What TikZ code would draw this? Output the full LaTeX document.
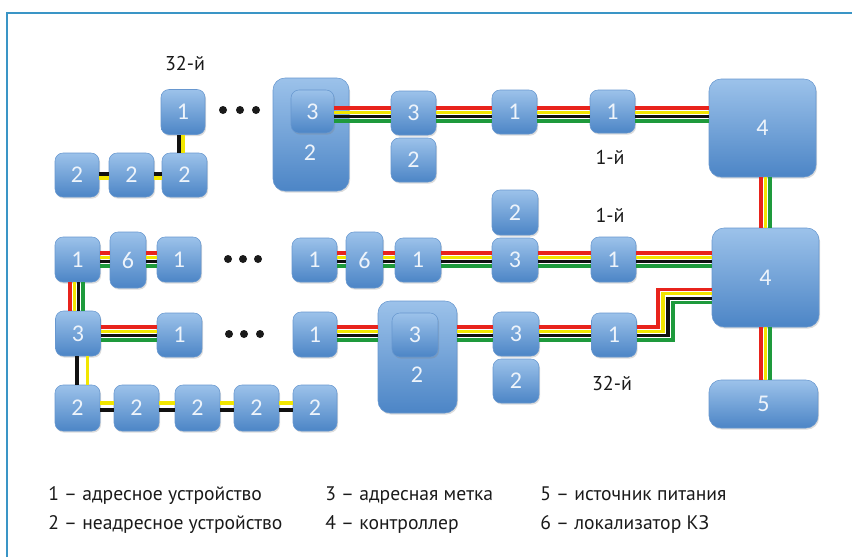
\documentclass[tikz,border=0pt]{standalone}
\usepackage{fontspec}
\setmainfont{PT Sans}
\newfontfamily\numfont{Carlito}
\usetikzlibrary{calc,shadows}
\definecolor{frameblue}{HTML}{3A95C6}
\definecolor{boxtop}{HTML}{9CC2EA}
\definecolor{boxbot}{HTML}{4C85C6}
\definecolor{wred}{HTML}{E8231C}
\definecolor{wyel}{HTML}{F2E600}
\definecolor{wblk}{HTML}{111111}
\definecolor{wgrn}{HTML}{1E9A3C}
\definecolor{numcol}{HTML}{EEF4FB}
\definecolor{txt}{HTML}{1A1A1A}
\tikzset{
  devbox/.style 2 args={rounded corners=6pt, top color=boxtop, bottom color=boxbot,
    draw=boxbot!85!white, line width=0.4pt, minimum width=#1*0.75pt, minimum height=#2*0.75pt,
    inner sep=0pt, text=numcol, font=\numfont\fontsize{18}{18}\selectfont,
    drop shadow={shadow xshift=0.8pt, shadow yshift=-1.2pt, opacity=0.28}},
  bigbox/.style 2 args={devbox={#1}{#2}, rounded corners=9pt},
  numtext/.style={text=numcol, font=\numfont\fontsize{18}{18}\selectfont, inner sep=0pt},
  lbl/.style={text=txt, font=\fontsize{15}{17}\selectfont, inner sep=0pt},
  legend/.style={text=txt, font=\fontsize{14.7}{17}\selectfont, inner sep=0pt, anchor=base west},
  wire/.style={line width=2.5pt},
  dotmark/.style={circle, fill=txt, minimum size=6pt, inner sep=0pt},
}
\newcommand\wiresH[3]{\foreach \wc/\wo in {wred/-6.5,wyel/-2.2,wblk/2.2,wgrn/6.5}{%
  \draw[wire,draw=\wc] ($(#1.east |- #3)+(0,\wo)$) -- ($(#2.west |- #3)+(0,\wo)$);}}
\newcommand\wiresVthree[3]{\foreach \wc/\wo in {wred/-4.5,wyel/0,wgrn/4.5}{%
  \draw[wire,draw=\wc] ($(#1.south -| #3)+(\wo,0)$) -- ($(#2.north -| #3)+(\wo,0)$);}}
\begin{document}
\begin{tikzpicture}[x=0.75pt,y=-0.75pt]
\useasboundingbox (0,0) rectangle (852,557);
\draw[frameblue, line width=1.9pt] (7,557) -- (7,13) -- (852,13);

% coordinates for wire runs
\coordinate (rT) at (0,114.5);
\coordinate (rM) at (0,259.5);
\coordinate (rB) at (0,333.5);
\coordinate (rUp) at (0,296);
\coordinate (cStep) at (665.5,0);
\coordinate (c44) at (765.5,0);
\coordinate (cL) at (76.5,0);
\coordinate (cTL) at (181,0);
\coordinate (rTL) at (0,176);
\coordinate (cBL) at (82.25,0);
\coordinate (rBL) at (0,406.5);

% ---- top-left group
\node[lbl] (lab32a) at (185,63) {32-й};
\node[devbox={44}{45}] (tl1) at (183,112) {1};
\node[devbox={44}{44}] (tl2a) at (77,175) {2};
\node[devbox={45}{44}] (tl2b) at (131.5,175) {2};
\node[devbox={45}{44}] (tl2c) at (184.5,175) {2};
\node[dotmark] (d1) at (223,110) {};
\node[dotmark] (d2) at (240,110) {};
\node[dotmark] (d3) at (256,110) {};

% ---- top row
\node[bigbox={76}{113}] (tB2) at (311,134.5) {};
\node[numtext] (tB2l) at (310,153) {2};
\node[devbox={43}{43}] (tB3) at (312.5,111.5) {3};
\node[devbox={45}{44}] (t3) at (413.5,113) {3};
\node[devbox={45}{44}] (t2) at (413.5,160) {2};
\node[devbox={45}{44}] (t1) at (514.5,112) {1};
\node[devbox={45}{43}] (t1b) at (612.5,111.5) {1};
\node[lbl] (lab1a) at (610,157) {1-й};
\node[bigbox={107}{98}] (c4a) at (762.5,128) {4};

% ---- middle row
\node[devbox={45}{45}] (m1a) at (77.5,259.5) {1};
\node[devbox={36}{56}] (m6a) at (128,260) {6};
\node[devbox={44}{45}] (m1b) at (179,259.5) {1};
\node[dotmark] (d4) at (228,259) {};
\node[dotmark] (d5) at (243,259) {};
\node[dotmark] (d6) at (258,259) {};
\node[devbox={45}{44}] (m1c) at (314.5,260) {1};
\node[devbox={37}{56}] (m6b) at (364.5,260) {6};
\node[devbox={46}{44}] (m1d) at (418,260) {1};
\node[devbox={46}{45}] (m2) at (515,212.5) {2};
\node[devbox={46}{44}] (m3) at (515,260) {3};
\node[lbl] (lab1b) at (610,215) {1-й};
\node[devbox={45}{45}] (m1e) at (613.5,259.5) {1};
\node[bigbox={107}{99}] (c4b) at (765.5,277.5) {4};

% ---- bottom row
\node[devbox={45}{45}] (b3) at (78,333.5) {3};
\node[devbox={45}{44}] (b1a) at (179.5,335) {1};
\node[dotmark] (d7) at (229,334) {};
\node[dotmark] (d8) at (244,334) {};
\node[dotmark] (d9) at (260,334) {};
\node[devbox={44}{45}] (b1b) at (315,334.5) {1};
\node[bigbox={79}{112}] (bB2) at (417.5,357) {};
\node[numtext] (bB2l) at (417,375) {2};
\node[devbox={46}{44}] (bB3) at (415,335) {3};
\node[devbox={46}{44}] (b3b) at (516,334) {3};
\node[devbox={46}{44}] (b2) at (516,381) {2};
\node[devbox={45}{44}] (b1c) at (614,335) {1};
\node[lbl] (lab32b) at (612,383) {32-й};
\node[bigbox={109}{48}] (c5) at (763.5,404) {5};

% ---- chain of 2
\node[devbox={45}{46}] (ch1) at (77.5,408) {2};
\node[devbox={45}{46}] (ch2) at (136.5,408) {2};
\node[devbox={45}{46}] (ch3) at (197.5,408) {2};
\node[devbox={45}{46}] (ch4) at (256.5,408) {2};
\node[devbox={44}{46}] (ch5) at (315,408) {2};

% ---- four-wire runs
\wiresH{tB3}{t3}{rT}
\wiresH{t3}{t1}{rT}
\wiresH{t1}{t1b}{rT}
\wiresH{t1b}{c4a}{rT}
\wiresH{m1a}{m6a}{rM}
\wiresH{m6a}{m1b}{rM}
\wiresH{m1c}{m6b}{rM}
\wiresH{m6b}{m1d}{rM}
\wiresH{m1d}{m3}{rM}
\wiresH{m3}{m1e}{rM}
\wiresH{m1e}{c4b}{rM}
\wiresH{b3}{b1a}{rB}
\wiresH{b1b}{bB2}{rB}
\wiresH{bB2}{b3b}{rB}
\wiresH{b3b}{b1c}{rB}
\foreach \wc/\wo/\wx in {wred/-6.5/-7.5,wyel/-2.2/-2.5,wblk/2.2/2.5,wgrn/6.5/7.5}{%
  \draw[wire,draw=\wc] ($(b1c.east |- rB)+(0,\wo)$) -| ($(cStep |- rUp)+(\wx,\wo)$)
     -- ($(c4b.west |- rUp)+(0,\wo)$);}
\foreach \wc/\wo in {wred/-6.5,wyel/-2.2,wblk/2.2,wgrn/6.5}{%
  \draw[wire,draw=\wc] ($(m1a.south -| cL)+(\wo,0)$) -- ($(b3.north -| cL)+(\wo,0)$);}
\wiresVthree{c4a}{c4b}{c44}
\wiresVthree{c4b}{c5}{c44}

% ---- two-wire runs
\draw[wire,draw=wblk] ($(tl1.south -| cTL)+(-2,0)$) -- ($(tl2c.north -| cTL)+(-2,0)$);
\draw[wire,draw=wyel] ($(tl1.south -| cTL)+(2,0)$) -- ($(tl2c.north -| cTL)+(2,0)$);
\foreach \a/\b in {tl2a/tl2b,tl2b/tl2c}{%
  \draw[wire,draw=wblk] ($(\a.east |- rTL)+(0,-2)$) -- ($(\b.west |- rTL)+(0,-2)$);
  \draw[wire,draw=wyel] ($(\a.east |- rTL)+(0,2)$) -- ($(\b.west |- rTL)+(0,2)$);}
\draw[wire,draw=wblk] ($(b3.south -| cBL)+(-5.25,0)$) -- ($(ch1.north -| cBL)+(-5.25,0)$);
\draw[wire,draw=wyel] ($(b3.south -| cBL)+(5.25,0)$) -- ($(ch1.north -| cBL)+(5.25,0)$);
\foreach \a/\b in {ch1/ch2,ch2/ch3,ch3/ch4,ch4/ch5}{%
  \draw[wire,draw=wyel] ($(\a.east |- rBL)+(0,-3.5)$) -- ($(\b.west |- rBL)+(0,-3.5)$);
  \draw[wire,draw=wblk] ($(\a.east |- rBL)+(0,3.5)$) -- ($(\b.west |- rBL)+(0,3.5)$);}

% ---- legend
\node[legend] (lg1) at (48,500) {1 – адресное устройство};
\node[legend] (lg2) at (48,529) {2 – неадресное устройство};
\node[legend] (lg3) at (325,500) {3 – адресная метка};
\node[legend] (lg4) at (325,529) {4 – контроллер};
\node[legend] (lg5) at (540,500) {5 – источник питания};
\node[legend] (lg6) at (540,529) {6 – локализатор КЗ};
\end{tikzpicture}
\end{document}
